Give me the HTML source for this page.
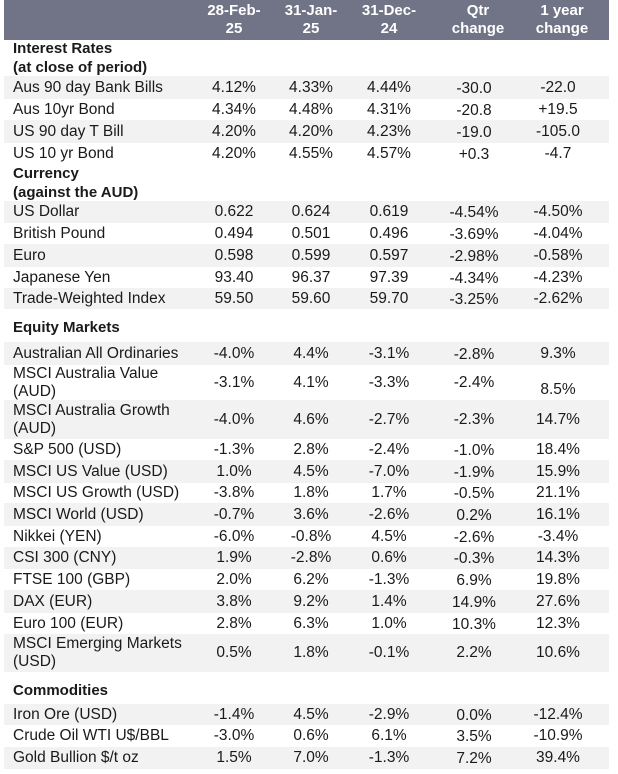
<!DOCTYPE html>
<html><head><meta charset="utf-8">
<style>
html,body{margin:0;padding:0;background:#fff;}
body{width:618px;height:774px;position:relative;overflow:hidden;font-family:"Liberation Sans",Arial,sans-serif;color:#1a1a1a;}
.abs{position:absolute;}
.hdr{left:4px;top:0;width:605px;height:40px;background:#717487;}
.hcell{position:absolute;top:2px;color:#fff;font-weight:bold;font-size:15px;line-height:18px;text-align:center;width:90px;}
.band{position:absolute;left:4px;width:605px;background:#f2f2f2;}
.lbl{position:absolute;left:13px;font-size:15.5px;line-height:18px;white-space:nowrap;}
.sec{font-weight:bold;font-size:15px;line-height:19px;}
.val{position:absolute;font-size:15.5px;width:90px;text-align:center;line-height:18px;}
</style></head>
<body>
<div class="abs hdr"></div>
<script>
const headers = ["28-Feb-\n25","31-Jan-\n25","31-Dec-\n24","Qtr\nchange","1 year\nchange"];
const headerCenters = [234,311,389,478,562];
const colCenters = [234,311,389,474,558];
const rows = [
 ["sec","Interest Rates\n(at close of period)",40,76],
 ["row","Aus 90 day Bank Bills",76,99,["4.12%","4.33%","4.44%","-30.0","-22.0"],1],
 ["row","Aus 10yr Bond",99,120,["4.34%","4.48%","4.31%","-20.8","+19.5"],0],
 ["row","US 90 day T Bill",120,143,["4.20%","4.20%","4.23%","-19.0","-105.0"],1],
 ["row","US 10 yr Bond",143,165,["4.20%","4.55%","4.57%","+0.3","-4.7"],0],
 ["sec","Currency\n(against the AUD)",165,201],
 ["row","US Dollar",201,223,["0.622","0.624","0.619","-4.54%","-4.50%"],1],
 ["row","British Pound",223,244,["0.494","0.501","0.496","-3.69%","-4.04%"],0],
 ["row","Euro",244,267,["0.598","0.599","0.597","-2.98%","-0.58%"],1],
 ["row","Japanese Yen",267,288,["93.40","96.37","97.39","-4.34%","-4.23%"],0],
 ["row","Trade-Weighted Index",288,309,["59.50","59.60","59.70","-3.25%","-2.62%"],1],
 ["sec","Equity Markets",309,342],
 ["row","Australian All Ordinaries",342,365,["-4.0%","4.4%","-3.1%","-2.8%","9.3%"],1],
 ["row","MSCI Australia Value\n(AUD)",365,400,["-3.1%","4.1%","-3.3%","-2.4%","8.5%"],0],
 ["row","MSCI Australia Growth\n(AUD)",400,439,["-4.0%","4.6%","-2.7%","-2.3%","14.7%"],1],
 ["row","S&P 500 (USD)",439,460,["-1.3%","2.8%","-2.4%","-1.0%","18.4%"],0],
 ["row","MSCI US Value (USD)",460,483,["1.0%","4.5%","-7.0%","-1.9%","15.9%"],1],
 ["row","MSCI US Growth (USD)",483,503,["-3.8%","1.8%","1.7%","-0.5%","21.1%"],0],
 ["row","MSCI World (USD)",503,526,["-0.7%","3.6%","-2.6%","0.2%","16.1%"],1],
 ["row","Nikkei (YEN)",526,547,["-6.0%","-0.8%","4.5%","-2.6%","-3.4%"],0],
 ["row","CSI 300 (CNY)",547,569,["1.9%","-2.8%","0.6%","-0.3%","14.3%"],1],
 ["row","FTSE 100 (GBP)",569,590,["2.0%","6.2%","-1.3%","6.9%","19.8%"],0],
 ["row","DAX (EUR)",590,613,["3.8%","9.2%","1.4%","14.9%","27.6%"],1],
 ["row","Euro 100 (EUR)",613,634,["2.8%","6.3%","1.0%","10.3%","12.3%"],0],
 ["row","MSCI Emerging Markets\n(USD)",634,672,["0.5%","1.8%","-0.1%","2.2%","10.6%"],1],
 ["sec","Commodities",672,704],
 ["row","Iron Ore (USD)",704,725,["-1.4%","4.5%","-2.9%","0.0%","-12.4%"],1],
 ["row","Crude Oil WTI U$/BBL",725,747,["-3.0%","0.6%","6.1%","3.5%","-10.9%"],0],
 ["row","Gold Bullion $/t oz",747,769,["1.5%","7.0%","-1.3%","7.2%","39.4%"],1]
];
const body = document.body;
headers.forEach((h,i)=>{
  const d=document.createElement('div');
  d.className='hcell';
  
  
  d.style.left=(headerCenters[i]-45)+'px';
  d.innerHTML=h.replace('\n','<br>');
  body.appendChild(d);
});
rows.forEach(r=>{
  const [type,label,top,bot,vals,shaded]=r;
  const h=bot-top;
  if(type==='row' && shaded){
    const b=document.createElement('div');
    b.className='band';
    
    
    b.style.top=top+'px'; b.style.height=h+'px';
    body.appendChild(b);
  }
  const l=document.createElement('div');
  l.className='lbl'+(type==='sec'?' sec':'');
  
  
  const lines=label.split('\n').length;
  const lh=type==='sec'?19:18;
  l.style.top=(top+(h-lines*lh)/2+(type==='sec'&&lines===1?2:0))+'px';
  l.innerHTML=label.split('\n').map(s=>s.replace(/&/g,'&amp;')).join('<br>');
  body.appendChild(l);
  if(vals){
    vals.forEach((v,i)=>{
      const c=document.createElement('div');
      c.className='val';
      
      
      let t=top+(h-18)/2;
      if(label.startsWith('MSCI Australia Value') && i===4) t=bot-19;
      if(i===3 && lines===1) t+=1;
      c.style.top=t+'px';
      c.style.left=(colCenters[i]-45)+'px';
      c.textContent=v;
      body.appendChild(c);
    });
  }
});
</script>
</body></html>
